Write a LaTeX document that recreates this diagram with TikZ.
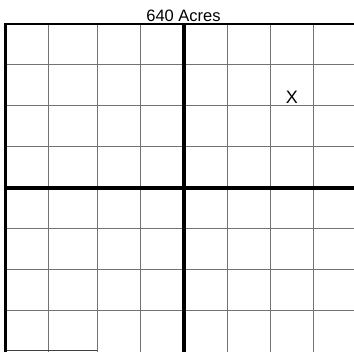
\documentclass[tikz,border=0pt]{standalone}
\usepackage{fontspec}
\setmainfont{Liberation Sans}
\begin{document}
\begin{tikzpicture}[x=1pt,y=-1pt,
  gridline/.style={draw=black!55,line width=1pt},
  thickline/.style={draw=black,line width=4pt},
  frameline/.style={draw=black,line width=2pt},
  lbl/.style={inner sep=0pt}]
\useasboundingbox (0,0) rectangle (354,352);
% grid lines
\foreach \x in {48.5,97,140.5,227,270.5,313} \draw[gridline] (\x,24) -- (\x,352);
\foreach \y in {65,106,147,229,270,311} \draw[gridline] (5,\y) -- (354,\y);
% partial bottom line
\draw[draw=black!75,line width=1pt] (5,351) -- (97,351);
% frame
\draw[frameline] (5,24) -- (354,24);
\draw[draw=black,line width=3pt] (5,23) -- (5,352);
% center cross
\draw[thickline] (183.5,24) -- (183.5,352);
\draw[thickline] (5,188) -- (354,188);
% labels
\node[lbl,font=\fontsize{16.5}{16.5}\selectfont] (title) at (183.5,15.5) {640 Acres};
\node[lbl,font=\fontsize{18}{18}\selectfont] (x) at (292,97) {X};
\end{tikzpicture}
\end{document}
